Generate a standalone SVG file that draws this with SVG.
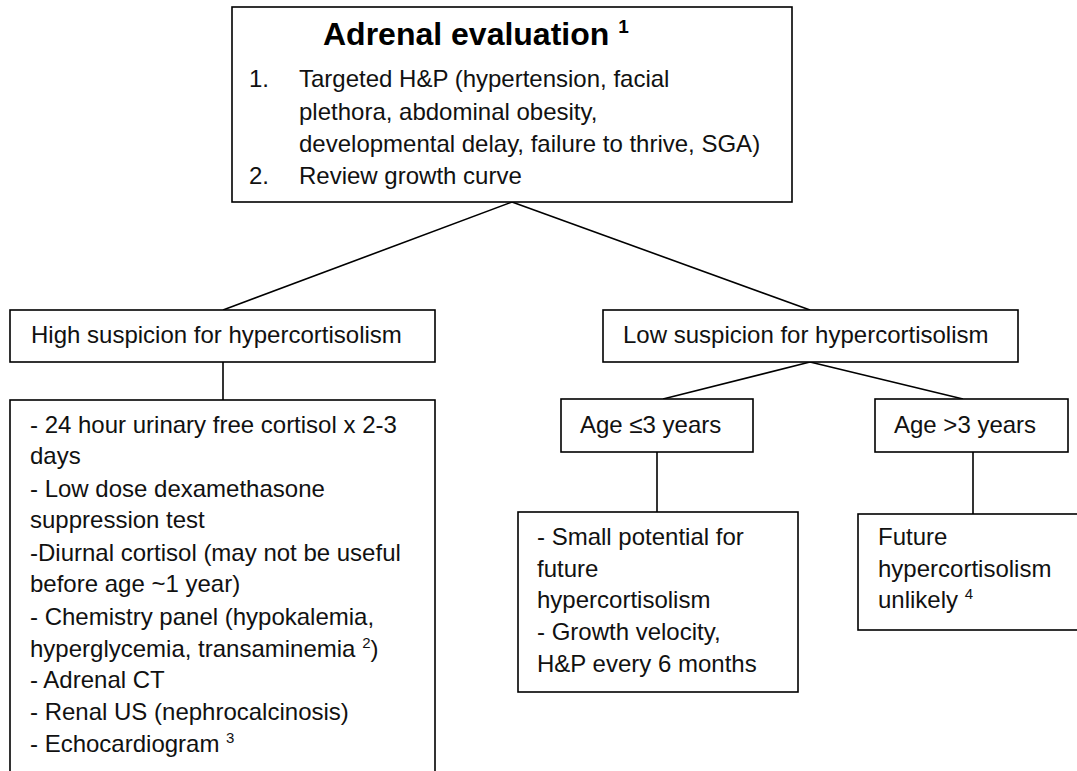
<svg xmlns="http://www.w3.org/2000/svg" width="1077" height="771" viewBox="0 0 1077 771">
<style>
.box{fill:#fff;stroke:#000;stroke-width:1.6}
.t{font-family:"Liberation Sans",Arial,sans-serif;font-size:24px;fill:#111}
.title{font-family:"Liberation Sans",Arial,sans-serif;font-size:32px;font-weight:bold;fill:#000}
.c{stroke:#000;stroke-width:1.6;fill:none}
</style>
<rect width="1077" height="771" fill="#fff"/>
<g id="connectors">
<line class="c" x1="512" y1="202" x2="223" y2="310"/>
<line class="c" x1="512" y1="202" x2="810" y2="310"/>
<line class="c" x1="223" y1="362" x2="223" y2="400"/>
<line class="c" x1="810" y1="362" x2="663" y2="399"/>
<line class="c" x1="810" y1="362" x2="963" y2="399"/>
<line class="c" x1="657" y1="452" x2="657" y2="512"/>
<line class="c" x1="973" y1="452" x2="973" y2="514"/>
</g>
<g id="adrenal-evaluation">
<rect class="box" x="232" y="7" width="560" height="195"/>
<text class="title" x="323" y="45">Adrenal evaluation <tspan font-size="19" dy="-12">1</tspan></text>
<text class="t" x="249" y="87">1.</text>
<text class="t" x="299" y="87">Targeted H&amp;P (hypertension, facial</text>
<text class="t" x="299" y="120">plethora, abdominal obesity,</text>
<text class="t" x="299" y="152">developmental delay, failure to thrive, SGA)</text>
<text class="t" x="249" y="184">2.</text>
<text class="t" x="299" y="184">Review growth curve</text>
</g>
<g id="high-suspicion">
<rect class="box" x="10" y="310" width="425" height="52"/>
<text class="t" x="31" y="343">High suspicion for hypercortisolism</text>
</g>
<g id="low-suspicion">
<rect class="box" x="603" y="310" width="415" height="52"/>
<text class="t" x="623" y="343">Low suspicion for hypercortisolism</text>
</g>
<g id="high-workup">
<rect class="box" x="10" y="400" width="425" height="390"/>
<text class="t" x="30" y="433">- 24 hour urinary free cortisol x 2-3</text>
<text class="t" x="30" y="464">days</text>
<text class="t" x="30" y="497">- Low dose dexamethasone</text>
<text class="t" x="30" y="528">suppression test</text>
<text class="t" x="30" y="561">-Diurnal cortisol (may not be useful</text>
<text class="t" x="30" y="592">before age ~1 year)</text>
<text class="t" x="30" y="625">- Chemistry panel (hypokalemia,</text>
<text class="t" x="30" y="657">hyperglycemia, transaminemia <tspan font-size="15" dy="-9">2</tspan><tspan dy="9">)</tspan></text>
<text class="t" x="30" y="688">- Adrenal CT</text>
<text class="t" x="30" y="720">- Renal US (nephrocalcinosis)</text>
<text class="t" x="30" y="752">- Echocardiogram <tspan font-size="15" dy="-9">3</tspan></text>
</g>
<g id="age-le-3">
<rect class="box" x="561" y="399" width="192" height="53"/>
<text class="t" x="580" y="433">Age ≤3 years</text>
</g>
<g id="age-gt-3">
<rect class="box" x="875" y="399" width="193" height="53"/>
<text class="t" x="894" y="433">Age &gt;3 years</text>
</g>
<g id="small-potential">
<rect class="box" x="518" y="512" width="280" height="180"/>
<text class="t" x="537" y="545">- Small potential for</text>
<text class="t" x="537" y="577">future</text>
<text class="t" x="537" y="608">hypercortisolism</text>
<text class="t" x="537" y="640">- Growth velocity,</text>
<text class="t" x="537" y="672">H&amp;P every 6 months</text>
</g>
<g id="future-unlikely">
<rect class="box" x="858" y="514" width="230" height="116"/>
<text class="t" x="878" y="545">Future</text>
<text class="t" x="878" y="577">hypercortisolism</text>
<text class="t" x="878" y="608">unlikely <tspan font-size="15" dy="-9">4</tspan></text>
</g>
</svg>
